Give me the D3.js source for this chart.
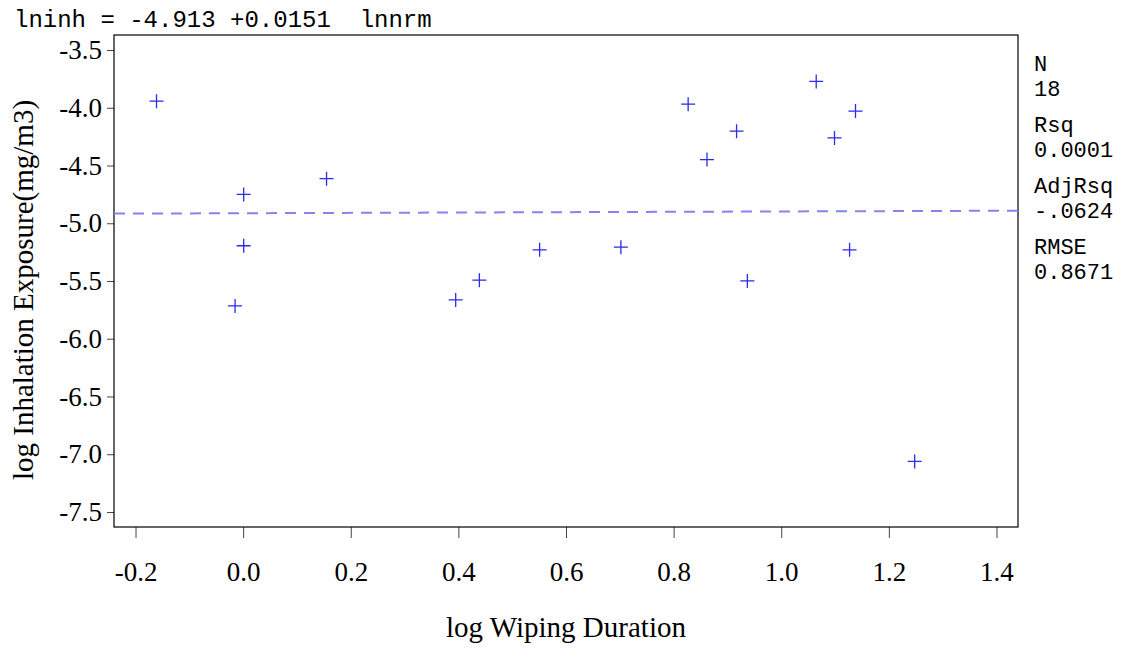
<!DOCTYPE html>
<html>
<head>
<meta charset="utf-8">
<script src="https://cdn.jsdelivr.net/npm/d3@7"></script>
<style>
  html, body { margin: 0; padding: 0; background: #fff; }
  svg { display: block; }
</style>
</head>
<body>
<svg id="chart" width="1129" height="648"></svg>
<script>
// Observations: log wiping duration vs log inhalation exposure
const logWiping = [-0.161, 0.001, 0.155, 0.001, -0.015, 0.395, 0.439, 0.551, 0.702, 0.827,
                   1.065, 1.138, 0.917, 1.099, 0.862, 1.127, 0.937, 1.248];
const logInhal  = [-3.943, -4.750, -4.614, -5.195, -5.716, -5.664, -5.493, -5.230, -5.207, -3.969,
                   -3.772, -4.029, -4.203, -4.261, -4.449, -5.230, -5.499, -7.062];

// Fitted regression: lninh = intercept + slope * lnnrm
const intercept = -4.913;
const slope = 0.0151;

const xTicks = [-0.2, 0.0, 0.2, 0.4, 0.6, 0.8, 1.0, 1.2, 1.4];
const yTicks = [-7.5, -7.0, -6.5, -6.0, -5.5, -5.0, -4.5, -4.0, -3.5];

const statLabels = ["N", "Rsq", "AdjRsq", "RMSE"];
const statValues = ["18", "0.0001", "-.0624", "0.8671"];

const titleText = "lninh = -4.913 +0.0151  lnnrm";
const xTitle = "log Wiping Duration";
const yTitle = "log Inhalation Exposure(mg/m3)";

(function draw() {
  const svg = d3.select("#chart");
  const pL = 114, pR = 1018, pT = 35, pB = 527;

  const x = d3.scaleLinear().domain([-0.24, 1.44]).range([pL, pR]);
  const y = d3.scaleLinear().domain([-7.63, -3.37]).range([pB, pT]);

  const serif = "'Liberation Serif', 'Times New Roman', serif";
  const mono = "'Liberation Mono', 'Courier New', monospace";

  // axes
  const fmt = d => d.toFixed(1);
  const gx = svg.append("g")
    .attr("transform", `translate(0,${pB})`)
    .call(d3.axisBottom(x).tickValues(xTicks).tickFormat(fmt).tickSize(11).tickSizeOuter(0).tickPadding(24));
  const gy = svg.append("g")
    .attr("transform", `translate(${pL},0)`)
    .call(d3.axisLeft(y).tickValues(yTicks).tickFormat(fmt).tickSize(7).tickSizeOuter(0).tickPadding(5));

  [gx, gy].forEach(g => {
    g.select(".domain").remove();
    g.selectAll(".tick line").attr("stroke", "#444").attr("stroke-width", 1);
    g.selectAll(".tick text").attr("fill", "#000")
      .style("font-family", serif).style("font-size", "27px");
  });

  // frame
  svg.append("rect")
    .attr("x", pL).attr("y", pT)
    .attr("width", pR - pL).attr("height", pB - pT)
    .attr("fill", "none").attr("stroke", "#000").attr("stroke-width", 1.2);

  // regression line
  const fitLine = d3.line().x(d => x(d)).y(d => y(intercept + slope * d));
  svg.append("path")
    .datum(x.domain())
    .attr("d", fitLine)
    .attr("fill", "none")
    .attr("stroke", "#8484ee")
    .attr("stroke-width", 2)
    .attr("stroke-dasharray", "11,8");

  // plus markers
  const pts = logWiping.map((v, i) => [v, logInhal[i]]);
  const h = 7;
  svg.append("g").selectAll("path")
    .data(pts)
    .join("path")
    .attr("d", d => {
      const cx = x(d[0]), cy = y(d[1]);
      return `M${cx - h},${cy}H${cx + h}M${cx},${cy - h}V${cy + h}`;
    })
    .attr("fill", "none")
    .attr("stroke", "#2b2bea")
    .attr("stroke-width", 1.3);

  // equation title
  svg.append("text")
    .attr("x", 14).attr("y", 27)
    .style("font-family", mono).style("font-size", "24px")
    .style("white-space", "pre")
    .text(titleText);

  // statistics panel
  const statTop = 71, pairGap = 61, lineGap = 25;
  const stats = svg.append("g").style("font-family", mono).style("font-size", "22px");
  statLabels.forEach((lab, i) => {
    stats.append("text").attr("x", 1034).attr("y", statTop + i * pairGap).text(lab);
    stats.append("text").attr("x", 1034).attr("y", statTop + i * pairGap + lineGap).text(statValues[i]);
  });

  // axis titles
  svg.append("text")
    .attr("x", (pL + pR) / 2).attr("y", 637)
    .attr("text-anchor", "middle")
    .style("font-family", serif).style("font-size", "29px")
    .text(xTitle);

  svg.append("text")
    .attr("transform", "translate(33,290) rotate(-90)")
    .attr("text-anchor", "middle")
    .style("font-family", serif).style("font-size", "29px")
    .text(yTitle);
})();
</script>
</body>
</html>
